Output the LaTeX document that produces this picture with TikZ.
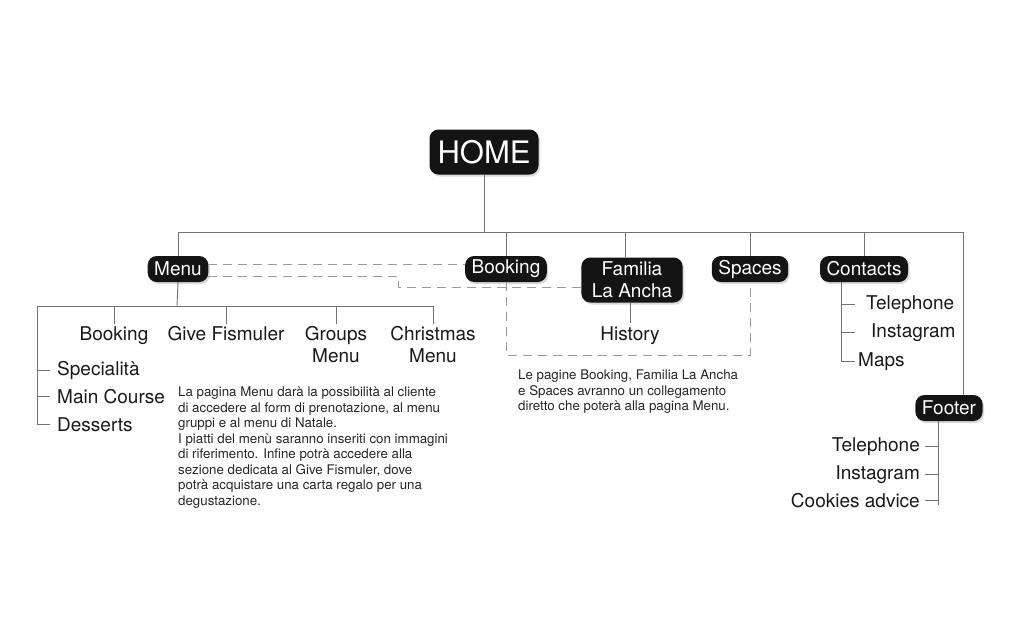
\documentclass[tikz,border=0pt]{standalone}
\usepackage{fontspec}
\setmainfont{TeX Gyre Heros}
\usepackage{tikz}
\usetikzlibrary{positioning, shadows, calc}

\tikzset{
  page/.style={fill=black!92, text=white, rounded corners=9pt, inner xsep=6.5pt, inner ysep=2pt,
    minimum height=26pt, font=\fontsize{19}{22}\selectfont,
    drop shadow={shadow xshift=1.5pt, shadow yshift=-2pt, opacity=0.3}},
  leaf/.style={font=\fontsize{19}{22}\selectfont, inner sep=0pt, align=center, text=black!90},
  link/.style={draw=black!55, line width=0.9pt},
  shortcut/.style={draw=black!40, line width=0.9pt, dash pattern=on 9pt off 6pt},
  note/.style={font=\fontsize{13.3}{15.5}\selectfont, align=left, inner sep=0pt, text=black!85}
}

\begin{document}
\begin{tikzpicture}[x=1pt, y=-1pt]
		\useasboundingbox (0,0) rectangle (1024,640);
		
		%//pages
		\node [page, font=\fontsize{31}{34}\selectfont, minimum width=109pt, minimum height=45pt] (home) at (484,152) {HOME};
		\node [page] (menu) at (178,269) {Menu};
		\node [page] (booking) at (506,269) {Booking};
		\node [page, align=center, minimum height=45pt, inner xsep=10.5pt] (familia) at (632,280) {Familia\\La Ancha};
		\node [page] (spaces) at (750,269) {Spaces};
		\node [page] (contacts) at (864,269) {Contacts};
		\node [page] (footer) at (949,408) {Footer};
		
		%//menu leaves
		\foreach \n/\x/\t in {mbook/114/Booking, mgive/226/Give Fismuler, mgroups/336/{Groups\\Menu}, mchrist/433/{Christmas\\Menu}}
		\node [leaf, anchor=north] (\n) at (\x,326) {\t};
		
		\foreach \n/\y/\t in {mspec/375/Specialità, mmain/403/Main Course, mdes/431/Desserts}
		\node [leaf, anchor=base west] (\n) at (57,\y) {\t};
		
		\node [leaf, anchor=north] (history) at (630,326) {History};
		
		%//contacts and footer leaves
		\foreach \n/\x/\y/\t in {ctel/866/309/Telephone, cins/871/337/Instagram, cmaps/858/366/Maps}
		\node [leaf, anchor=base west] (\n) at (\x,\y) {\t};
		
		\foreach \n/\y/\t in {ftel/451/Telephone, fins/479/Instagram, fcook/507/Cookies advice}
		\node [leaf, anchor=base east] (\n) at (920,\y) {\t};
		
		%//notes
		\node [note, anchor=north west] (menunote) at (178,387) {La pagina Menu darà la possibilità al cliente\\di accedere al form di prenotazione, al menu\\gruppi e al menu di Natale.\\I piatti del menù saranno inseriti con immagini\\di riferimento. Infine potrà accedere alla\\sezione dedicata al Give Fismuler, dove\\potrà acquistare una carta regalo per una\\degustazione.};
		\node [note, anchor=north west] (linknote) at (518,370) {Le pagine Booking, Familia La Ancha\\e Spaces avranno un collegamento\\diretto che poterà alla pagina Menu.};
		
		%//main bus
		\coordinate (busL) at (177,232);
		\coordinate (busR) at (963,232);
		\draw [link] (home.south) -- (home.south |- busL);
		\draw [link] (menu.north) -- (menu.north |- busL) -- (busR) -- (footer.north -| busR);
		\draw [link] (booking.north) -- (booking.north |- busL);
		\draw [link] ([xshift=-7pt]familia.north) -- ([xshift=-7pt]familia.north |- busL);
		\draw [link] (spaces.north) -- (spaces.north |- busL);
		\draw [link] (contacts.north) -- (contacts.north |- busL);
		
		%//menu children
		\coordinate (menubus) at (177,306);
		\coordinate (mleft) at (37,306);
		\draw [link] (menu.south) -- (menubus);
		\draw [link] (mchrist.north |- menubus) -- (mleft) |- ([xshift=-7pt]mdes.west);
		\foreach \n in {mbook, mgive, mgroups, mchrist}
		\draw [link] (\n.north |- menubus) -- ([yshift=2pt]\n.north);
		\foreach \n in {mspec, mmain}
		\draw [link] (mleft |- \n.west) -- ([xshift=-7pt]\n.west);
		
		\draw [link] (history.north |- familia.south) -- ([yshift=3pt]history.north);
		
		%//contacts children
		\coordinate (ctop) at ([xshift=-23pt]contacts.south);
		\draw [link] (ctop) |- ([xshift=-3pt]cmaps.west);
		\draw [link] (ctop |- ctel.west) -- ([xshift=-11pt]ctel.west);
		\draw [link] (ctop |- cins.west) -- ([xshift=-16pt]cins.west);
		
		%//footer children
		\coordinate (fend) at (938,505);
		\draw [link] ([xshift=-11pt]footer.south) -- (fend);
		\foreach \n in {ftel, fins, fcook}
		\draw [link] (\n.east -| fend) -- ([xshift=5pt]\n.east);
		
		%//shortcuts to menu
		\coordinate (bend) at (398,287);
		\coordinate (loop) at (506,355);
		\draw [shortcut] ([yshift=5pt]menu.east) -- ([yshift=5pt]booking.west);
		\draw [shortcut] ([yshift=-7pt]menu.east) -| (bend) -- (familia.west |- bend);
		\draw [shortcut] (booking.south) |- (spaces.south |- loop) -- (spaces.south);
		\end{tikzpicture}
\end{document}
